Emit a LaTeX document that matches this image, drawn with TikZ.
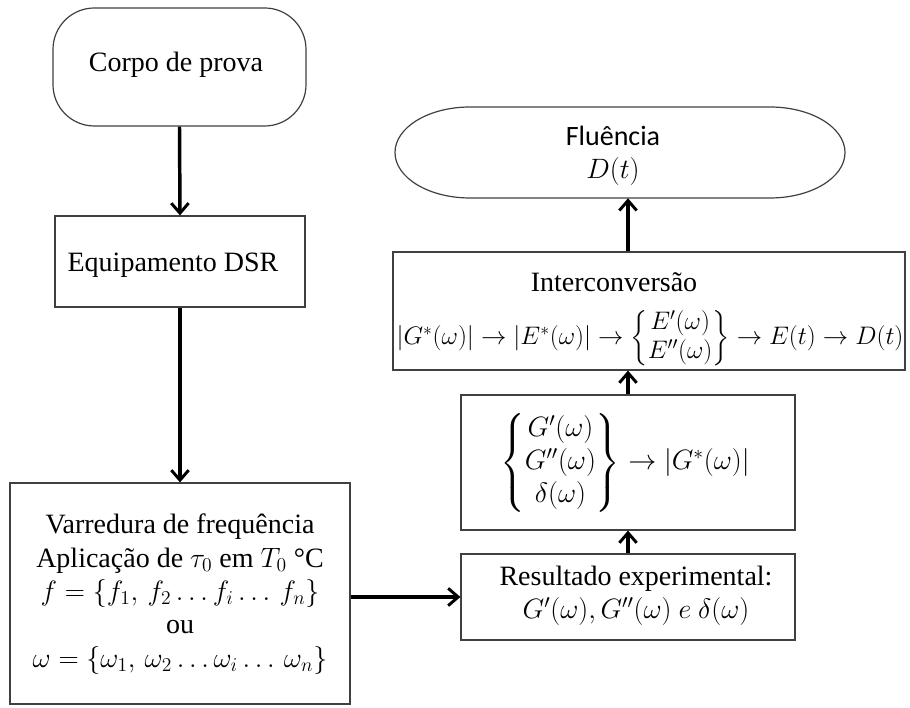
\documentclass[tikz,border=0pt]{standalone}
\usepackage{fix-cm}
\usepackage{amsmath}
\usepackage{fontspec}
\setmainfont{Liberation Serif}
\newfontfamily\calibfont{Carlito}
\usetikzlibrary{arrows.meta,fit}
\begin{document}
\begin{tikzpicture}[x=0.75pt,y=0.75pt,
  box/.style={draw=black!75, line width=0.9pt, inner sep=0pt},
  flow/.style={line width=2.6pt, -{Straight Barb[length=7.5pt,width=13pt,line width=2.2pt]}},
  txt/.style={font=\fontsize{21}{25}\selectfont, align=center, inner sep=0pt}
]
\useasboundingbox (0,0) rectangle (910,707);

% left column
\node[box, rounded corners=31pt, fit={(53,581)(306,699)}] (corpo) {};
\node[txt] (corpotxt) at (176,642) {Corpo de prova};
\node[box, fit={(55,400)(305,491)}] (equip) {};
\node[txt] (equiptxt) at (173,442) {Equipamento DSR};
\node[box, fit={(10,3)(350,224)}] (varr) {};
\node[txt] (varrtxt) at (180,113) {Varredura de frequência\\
  Aplicação de $\tau_0$ em $T_0$ °C\\
  $f=\{f_1,\, f_2 \dots f_i\dots\, f_n\}$\\
  ou\\
  $\omega=\{\omega_1,\, \omega_2 \dots \omega_i\dots\, \omega_n\}$};

% right column
\node[box, fit={(461,67)(795,153)}] (res) {};
\node[txt] (restxt) at (636,111) {Resultado experimental:\\
  $G'(\omega), G''(\omega)\ e\ \delta(\omega)$};
\node[box, fit={(461,177)(795,312)}] (mid) {};
\node[txt] (midtxt) at (625,244) {$\left\{\begin{matrix} G'(\omega)\\ G''(\omega)\\ \delta(\omega)\end{matrix}\right\} \rightarrow |G^*(\omega)|$};
\node[box, fit={(393,337)(905,455)}] (inter) {};
\node[txt] (intertitle) at (614,425) {Interconversão};
\node[txt, font=\fontsize{19}{22}\selectfont] (interform) at (650,369) {$|G^*(\omega)| \rightarrow |E^*(\omega)| \rightarrow \left\{\begin{matrix} E'(\omega)\\ E''(\omega)\end{matrix}\right\} \rightarrow E(t) \rightarrow D(t)$};

% terminal with elliptical ends
\node[inner sep=0pt, fit={(395,509)(845,600)}] (flu) {};
\draw[box] (470,600) -- (770,600)
  arc[start angle=90, end angle=-90, x radius=75, y radius=45.5]
  -- (470,509)
  arc[start angle=270, end angle=90, x radius=75, y radius=45.5] -- cycle;
\node[txt, font=\calibfont\fontsize{21}{25}\selectfont] (flutxt) at (613,551) {Fluência\\ $D(t)$};

% connectors
\draw[flow] (corpo.south) -- (equip.north);
\draw[flow] (equip.south) -- (varr.north);
\draw[flow] (varr.east |- res.west) -- (res.west);
\draw[flow] (res.north) -- (mid.south);
\draw[flow] (mid.north) -- (mid.north |- inter.south);
\draw[flow] (mid.north |- inter.north) -- (mid.north |- flu.south);
\end{tikzpicture}
\end{document}
